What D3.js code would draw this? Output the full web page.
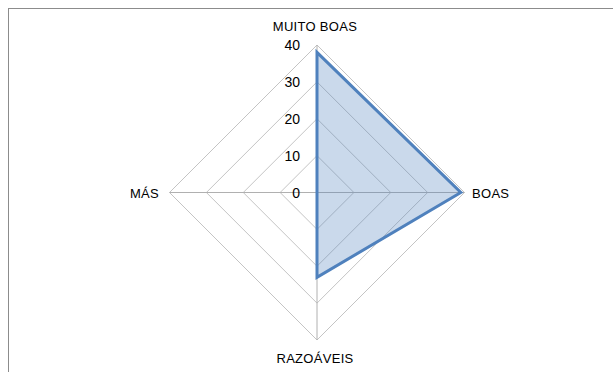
<!DOCTYPE html>
<html><head><meta charset="utf-8">
<script src="https://cdn.jsdelivr.net/npm/d3@7"></script>
<style>body{margin:0;background:#fff}svg{display:block}</style>
</head><body>
<script>
const categories = ["MUITO BOAS", "BOAS", "RAZOÁVEIS", "MÁS"];
const values = [38, 39, 23, 0];
const tickValues = [0, 10, 20, 30, 40];

const W = 613, H = 372;
const cx = 317, cy = 192.5, R = 147.5;
const svg = d3.select("body").append("svg").attr("width", W).attr("height", H);

svg.append("rect").attr("x", 8.5).attr("y", 8.5).attr("width", W + 10).attr("height", H + 10)
  .attr("fill", "none").attr("stroke", "#8c8c8c").attr("stroke-width", 1);

const r = d3.scaleLinear().domain([0, 40]).range([0, R]);
const angle = d3.scaleLinear().domain([0, categories.length]).range([0, 2 * Math.PI]);
const pt = (i, v) => [cx + r(v) * Math.sin(angle(i)), cy - r(v) * Math.cos(angle(i))];

const g = svg.append("g");
// grid diamonds
tickValues.filter(t => t > 0).forEach(t => {
  g.append("polygon")
    .attr("points", categories.map((c, i) => pt(i, t).join(",")).join(" "))
    .attr("fill", "none").attr("stroke", "#c4c4c4").attr("stroke-width", 1);
});
// spokes
categories.forEach((c, i) => {
  const p = pt(i, 40);
  g.append("line").attr("x1", cx).attr("y1", cy).attr("x2", p[0]).attr("y2", p[1])
    .attr("stroke", "#b0b0b0").attr("stroke-width", 1);
});

// series
const line = d3.line().curve(d3.curveLinearClosed);
g.append("path")
  .attr("d", line(values.map((v, i) => pt(i, v))))
  .attr("fill", "#4f81bd").attr("fill-opacity", 0.3)
  .attr("stroke", "#4f81bd").attr("stroke-width", 3).attr("stroke-linejoin", "miter");

const font = "'Liberation Sans', Arial, sans-serif";
// tick labels
tickValues.forEach(t => {
  svg.append("text").attr("x", 300).attr("y", cy - r(t)).attr("dy", "0.36em")
    .attr("text-anchor", "end").attr("font-family", font).attr("font-size", 14)
    .attr("fill", "#000").text(t);
});

// category labels
const labelPos = [
  {x: cx - 2, y: 31, anchor: "middle"},
  {x: 472, y: 197.5, anchor: "start"},
  {x: cx - 2, y: 362.5, anchor: "middle"},
  {x: 159, y: 197.5, anchor: "end"}
];
categories.forEach((c, i) => {
  svg.append("text").attr("x", labelPos[i].x).attr("y", labelPos[i].y)
    .attr("text-anchor", labelPos[i].anchor).attr("font-family", font).attr("font-size", 13)
    .attr("letter-spacing", "0.3px").attr("fill", "#000").text(c);
});
</script>
</body></html>
